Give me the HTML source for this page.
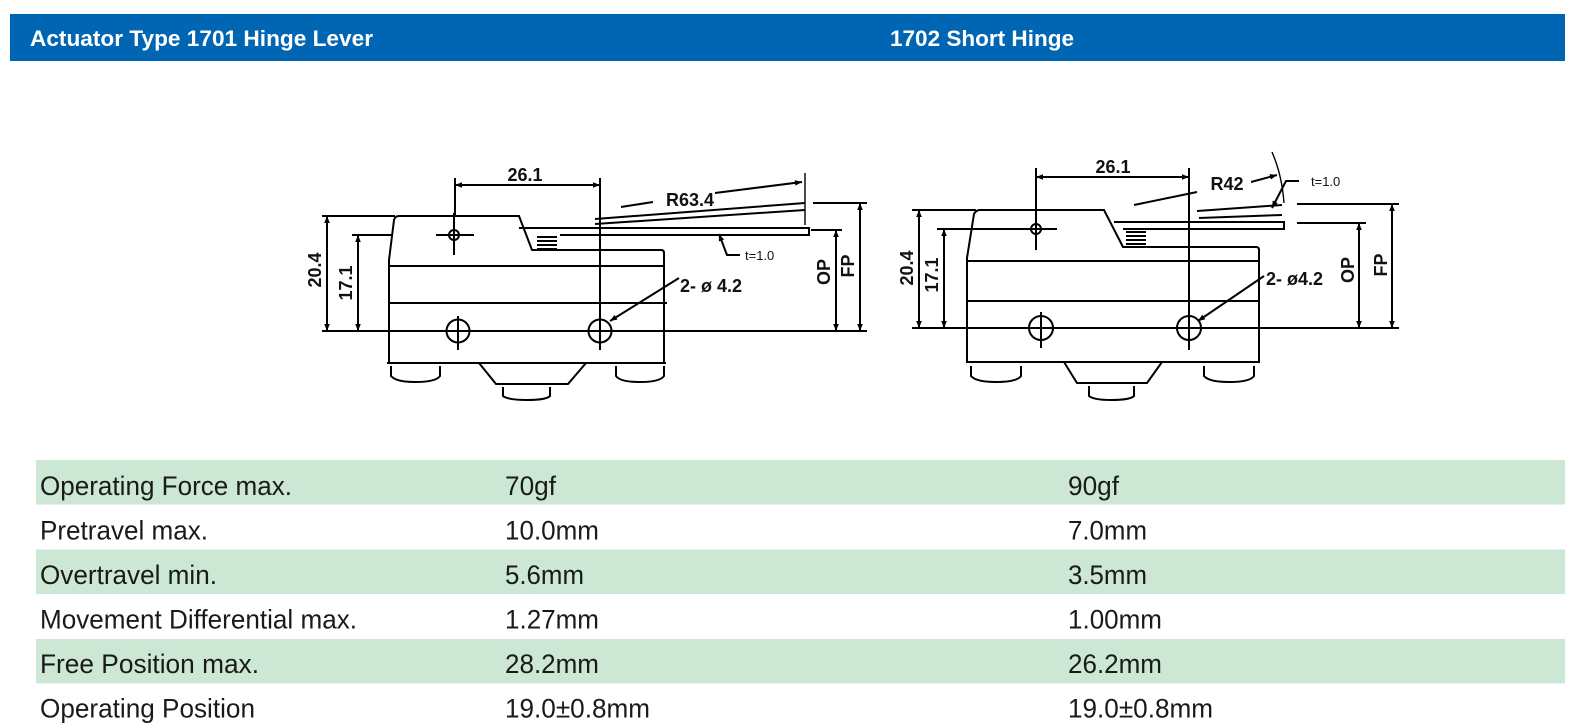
<!DOCTYPE html>
<html><head><meta charset="utf-8"><style>
html,body{margin:0;padding:0;background:#fff;}
svg{display:block;}
.t{font-family:"Liberation Sans",sans-serif;font-size:27px;fill:#1a1a1a;}
.d{font-family:"Liberation Sans",sans-serif;font-weight:bold;fill:#111;}
</style></head><body>
<svg width="1576" height="728" viewBox="0 0 1576 728" xmlns="http://www.w3.org/2000/svg">
<defs>
<marker id="a" viewBox="0 0 10 10" refX="10" refY="5" markerWidth="9" markerHeight="7" orient="auto-start-reverse" markerUnits="userSpaceOnUse"><path d="M0,1 L10,5 L0,9 z" fill="#000"/></marker>
</defs>
<rect x="10" y="14" width="1555" height="47" fill="#0066b3"/>
<text x="30" y="46" class="d" font-size="22" style="fill:#fff" textLength="343" lengthAdjust="spacingAndGlyphs">Actuator Type 1701 Hinge Lever</text>
<text x="890" y="46" class="d" font-size="22" style="fill:#fff" textLength="184" lengthAdjust="spacingAndGlyphs">1702 Short Hinge</text>

<rect x="36" y="460" width="1529" height="44.5" fill="#cce7d4"/>
<rect x="36" y="549.5" width="1529" height="44.5" fill="#cce7d4"/>
<rect x="36" y="639" width="1529" height="44.5" fill="#cce7d4"/>
<g class="t">
<text x="40" y="495" textLength="252" lengthAdjust="spacingAndGlyphs">Operating Force max.</text>
<text x="505" y="495" textLength="51" lengthAdjust="spacingAndGlyphs">70gf</text><text x="1068" y="495" textLength="51" lengthAdjust="spacingAndGlyphs">90gf</text>
<text x="40" y="539.5" textLength="168" lengthAdjust="spacingAndGlyphs">Pretravel max.</text>
<text x="505" y="539.5" textLength="94" lengthAdjust="spacingAndGlyphs">10.0mm</text><text x="1068" y="539.5" textLength="79" lengthAdjust="spacingAndGlyphs">7.0mm</text>
<text x="40" y="584" textLength="177" lengthAdjust="spacingAndGlyphs">Overtravel min.</text>
<text x="505" y="584" textLength="79" lengthAdjust="spacingAndGlyphs">5.6mm</text><text x="1068" y="584" textLength="79" lengthAdjust="spacingAndGlyphs">3.5mm</text>
<text x="40" y="628.5" textLength="317" lengthAdjust="spacingAndGlyphs">Movement Differential max.</text>
<text x="505" y="628.5" textLength="94" lengthAdjust="spacingAndGlyphs">1.27mm</text><text x="1068" y="628.5" textLength="94" lengthAdjust="spacingAndGlyphs">1.00mm</text>
<text x="40" y="673" textLength="219" lengthAdjust="spacingAndGlyphs">Free Position max.</text>
<text x="505" y="673" textLength="94" lengthAdjust="spacingAndGlyphs">28.2mm</text><text x="1068" y="673" textLength="94" lengthAdjust="spacingAndGlyphs">26.2mm</text>
<text x="40" y="717.5" textLength="215" lengthAdjust="spacingAndGlyphs">Operating Position</text>
<text x="505" y="717.5" textLength="145" lengthAdjust="spacingAndGlyphs">19.0±0.8mm</text><text x="1068" y="717.5" textLength="145" lengthAdjust="spacingAndGlyphs">19.0±0.8mm</text>
</g>

<g fill="none" stroke="#000" stroke-width="2">
<path d="M389,363 L389,260 L394,220 Q395,216 399,216 L519,216 L532,250 L661,250 Q664,250 664,253 L664,363 Z"/>
<line x1="389" y1="266" x2="664" y2="266"/>
<line x1="389" y1="303" x2="667" y2="303"/>
<line x1="387" y1="363" x2="666" y2="363"/>
<path d="M479,363 L496,384 L568,384 L586,363"/>
<path d="M391,366 L391,376 Q396,382 415,382 Q436,382 440,376 L440,366"/>
<path d="M616,366 L616,376 Q620,382 640,382 Q660,382 664,376 L664,366"/>
<path d="M503,387 L503,396 Q508,400 527,400 Q546,400 550,396 L550,387"/>
<circle cx="458" cy="331" r="11.5"/><circle cx="600" cy="331" r="11.5"/>
<line x1="458" y1="316" x2="458" y2="350"/>
<circle cx="454" cy="235" r="5"/>
<line x1="436" y1="235" x2="474" y2="235"/><line x1="454" y1="213" x2="454" y2="255"/>
<line x1="600" y1="178" x2="600" y2="350"/><line x1="455" y1="178" x2="455" y2="216"/>
<line x1="455" y1="185" x2="600" y2="185" marker-start="url(#a)" marker-end="url(#a)"/>
<path d="M537,237 h20 M537,241 h20 M537,245 h20 M537,249 h20" stroke-width="2"/>
<path d="M519,228 L809,228 L809,235 L560,235"/>
<line x1="595" y1="219" x2="805" y2="203"/><line x1="595" y1="224" x2="805" y2="210"/>
<line x1="805" y1="173" x2="805" y2="225" stroke-width="1.4"/>
<line x1="621" y1="207" x2="653" y2="202"/>
<line x1="715" y1="193" x2="802" y2="182" marker-end="url(#a)"/>
<path d="M740,255 L727,255 L719,234" marker-end="url(#a)"/>
<line x1="322" y1="216" x2="395" y2="216"/>
<line x1="327" y1="216" x2="327" y2="331" marker-start="url(#a)" marker-end="url(#a)"/>
<line x1="352" y1="235" x2="392" y2="235"/>
<line x1="358" y1="235" x2="358" y2="331" marker-start="url(#a)" marker-end="url(#a)"/>
<line x1="322" y1="331" x2="867" y2="331"/>
<line x1="811" y1="230" x2="842" y2="230"/>
<line x1="836" y1="230" x2="836" y2="331" marker-start="url(#a)" marker-end="url(#a)"/>
<line x1="813" y1="203" x2="867" y2="203"/>
<line x1="860" y1="203" x2="860" y2="331" marker-start="url(#a)" marker-end="url(#a)"/>
<line x1="679" y1="278" x2="610" y2="321" marker-end="url(#a)"/>
</g>
<g class="d">
<text x="525" y="181" font-size="18" text-anchor="middle">26.1</text>
<text x="690" y="206" font-size="18" text-anchor="middle">R63.4</text>
<text x="745" y="260" font-size="13" font-weight="normal">t=1.0</text>
<text x="680" y="292" font-size="18">2- ø 4.2</text>
<text transform="translate(321,270) rotate(-90)" font-size="18" text-anchor="middle">20.4</text>
<text transform="translate(352,283) rotate(-90)" font-size="18" text-anchor="middle">17.1</text>
<text transform="translate(830,272) rotate(-90)" font-size="18" text-anchor="middle">OP</text>
<text transform="translate(854,266) rotate(-90)" font-size="18" text-anchor="middle">FP</text>
</g>

<g fill="none" stroke="#000" stroke-width="2">
<path d="M967,362 L967,258 L974,214 Q976,210 980,210 L1104,210 L1123,247 L1256,247 Q1259,247 1259,250 L1259,362 Z"/>
<line x1="967" y1="261" x2="1259" y2="261"/>
<line x1="966" y1="301" x2="1259" y2="301"/>
<line x1="966" y1="362" x2="1260" y2="362"/>
<path d="M1064,362 L1077,383 L1147,383 L1162,362"/>
<path d="M971,366 L971,376 Q976,382 996,382 Q1017,382 1021,376 L1021,366"/>
<path d="M1204,366 L1204,376 Q1209,382 1229,382 Q1250,382 1254,376 L1254,366"/>
<path d="M1089,386 L1089,396 Q1094,400 1111,400 Q1130,400 1134,396 L1134,386"/>
<circle cx="1041" cy="328" r="12"/><circle cx="1189" cy="328" r="12"/>
<line x1="1041" y1="312" x2="1041" y2="348"/>
<circle cx="1036" cy="229" r="5"/>
<line x1="1016" y1="229" x2="1057" y2="229"/><line x1="1036" y1="208" x2="1036" y2="250"/>
<line x1="1189" y1="168" x2="1189" y2="350"/><line x1="1036" y1="168" x2="1036" y2="210"/>
<line x1="1036" y1="177" x2="1189" y2="177" marker-start="url(#a)" marker-end="url(#a)"/>
<path d="M1126,232 h20 M1126,236 h20 M1126,240 h20 M1126,244 h20" stroke-width="2"/>
<path d="M1114,222 L1284,222 L1284,229 L1123,229"/>
<line x1="1197" y1="211" x2="1282" y2="205"/><line x1="1199" y1="218" x2="1282" y2="215"/>
<path d="M1272,152 Q1282,175 1284,203" stroke-width="1.4"/>
<line x1="1134" y1="205" x2="1197" y2="192"/>
<line x1="1251" y1="182" x2="1277" y2="175" marker-end="url(#a)"/>
<path d="M1299,181 L1286,181 L1272,208" marker-end="url(#a)"/>
<line x1="912" y1="210" x2="976" y2="210"/>
<line x1="919" y1="210" x2="919" y2="328" marker-start="url(#a)" marker-end="url(#a)"/>
<line x1="937" y1="229" x2="1057" y2="229"/>
<line x1="944" y1="229" x2="944" y2="328" marker-start="url(#a)" marker-end="url(#a)"/>
<line x1="912" y1="328" x2="1399" y2="328"/>
<line x1="1297" y1="223" x2="1366" y2="223"/>
<line x1="1359" y1="223" x2="1359" y2="328" marker-start="url(#a)" marker-end="url(#a)"/>
<line x1="1297" y1="204" x2="1399" y2="204"/>
<line x1="1392" y1="204" x2="1392" y2="328" marker-start="url(#a)" marker-end="url(#a)"/>
<line x1="1264" y1="276" x2="1198" y2="321" marker-end="url(#a)"/>
</g>
<g class="d">
<text x="1113" y="173" font-size="18" text-anchor="middle">26.1</text>
<text x="1227" y="190" font-size="18" text-anchor="middle">R42</text>
<text x="1311" y="186" font-size="13" font-weight="normal">t=1.0</text>
<text x="1266" y="285" font-size="18">2-  ø4.2</text>
<text transform="translate(913,268) rotate(-90)" font-size="18" text-anchor="middle">20.4</text>
<text transform="translate(938,275) rotate(-90)" font-size="18" text-anchor="middle">17.1</text>
<text transform="translate(1354,270) rotate(-90)" font-size="18" text-anchor="middle">OP</text>
<text transform="translate(1387,265) rotate(-90)" font-size="18" text-anchor="middle">FP</text>
</g>
</svg>
</body></html>
